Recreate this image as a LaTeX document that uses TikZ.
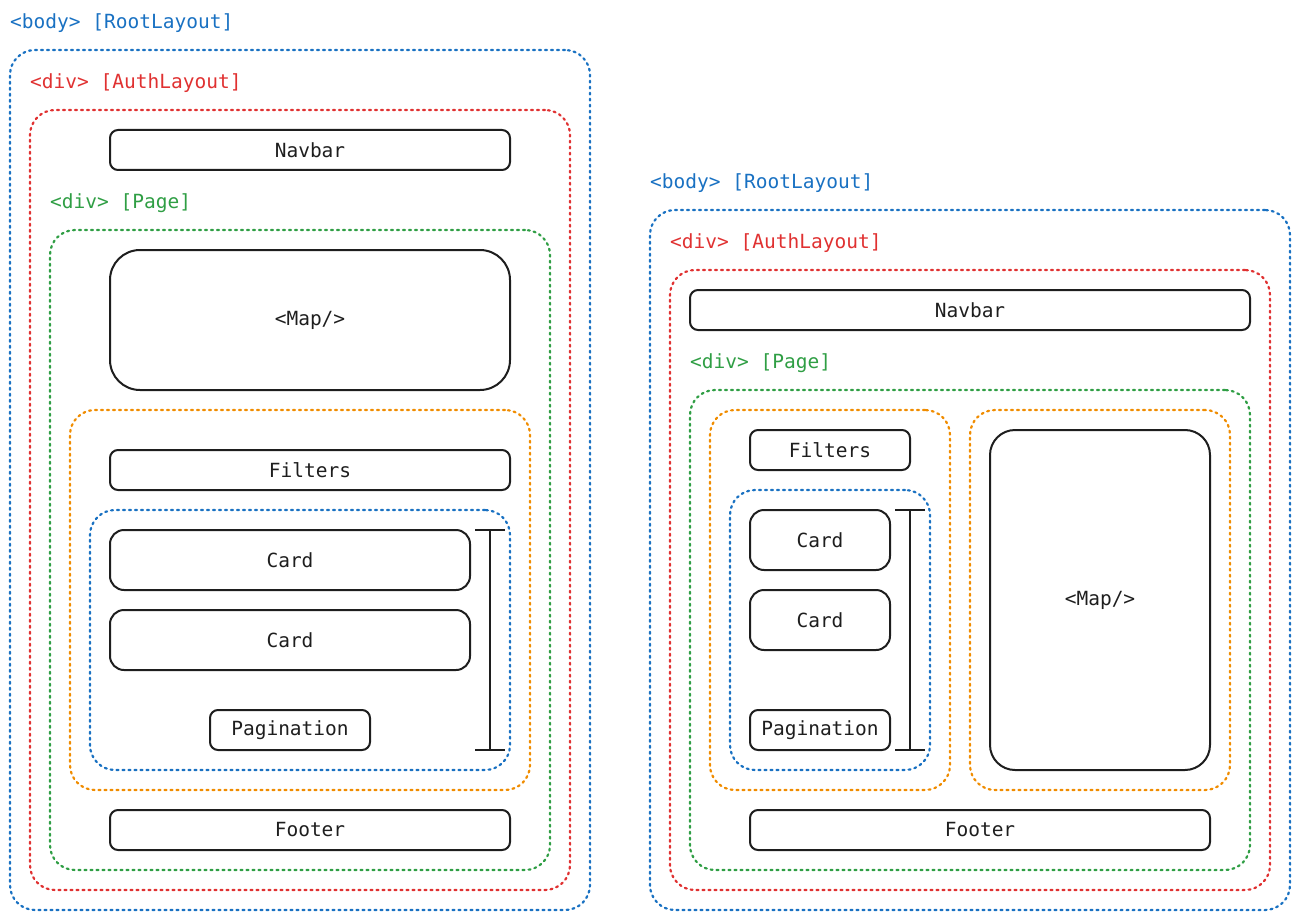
\documentclass[tikz,border=0pt]{standalone}
\usepackage{fontspec}
\newfontfamily\codefont{DejaVu Sans Mono}
\definecolor{cblue}{HTML}{1971C2}
\definecolor{cred}{HTML}{E03131}
\definecolor{cgreen}{HTML}{2F9E44}
\definecolor{corange}{HTML}{F08C00}
\definecolor{cdark}{HTML}{1E1E1E}
\tikzset{
  lbl/.style={anchor=west, inner sep=0pt, font=\codefont\fontsize{19.5}{22}\selectfont},
  cont/.style={draw=#1, line width=2.2pt, dash pattern=on 2pt off 4pt, line cap=round, rounded corners=25pt, inner sep=0pt},
  ubox/.style={draw=cdark, line width=2pt, rounded corners=#1, inner sep=0pt, text=cdark, font=\codefont\fontsize{19.5}{22}\selectfont},
  ubox/.default=8pt,
  sbar/.style={draw=cdark, line width=2pt}
}
\begin{document}
\begin{tikzpicture}[x=1pt,y=-1pt]
\useasboundingbox (0,0) rectangle (1300,920);
% ===== Left layout =====
\node[lbl, text=cblue] (bodyLL) at (10,23) {<body> [RootLayout]};
\node[cont=cblue, minimum width=580, minimum height=860] (bodyL) at (300,480) {};
\node[lbl, text=cred] (authLL) at (30,83) {<div> [AuthLayout]};
\node[cont=cred, minimum width=540, minimum height=780] (authL) at (300,500) {};
\node[ubox, minimum width=400, minimum height=40] (navL) at (310,150) {Navbar};
\node[lbl, text=cgreen] (pageLL) at (50,203) {<div> [Page]};
\node[cont=cgreen, minimum width=500, minimum height=640] (pageL) at (300,550) {};
\node[ubox=30pt, minimum width=400, minimum height=140] (mapL) at (310,320) {<Map/>};
\node[cont=corange, minimum width=460, minimum height=380] (listL) at (300,600) {};
\node[ubox, minimum width=400, minimum height=40] (filL) at (310,470) {Filters};
\node[cont=cblue, minimum width=420, minimum height=260] (scrL) at (300,640) {};
\node[ubox=14pt, minimum width=360, minimum height=60] (card1L) at (290,560) {Card};
\node[ubox=14pt, minimum width=360, minimum height=60] (card2L) at (290,640) {Card};
\node[ubox, minimum width=160, minimum height=40] (pagL) at (290,730) {Pagination};
\coordinate (sbLt) at (490,530);
\coordinate (sbLb) at (490,750);
\draw[sbar] (sbLt) -- (sbLb);
\draw[sbar] ([xshift=-15]sbLt) -- ([xshift=15]sbLt);
\draw[sbar] ([xshift=-15]sbLb) -- ([xshift=15]sbLb);
\node[ubox, minimum width=400, minimum height=40] (footL) at (310,830) {Footer};
% ===== Right layout =====
\node[lbl, text=cblue] (bodyRL) at (650,183) {<body> [RootLayout]};
\node[cont=cblue, minimum width=640, minimum height=700] (bodyR) at (970,560) {};
\node[lbl, text=cred] (authRL) at (670,243) {<div> [AuthLayout]};
\node[cont=cred, minimum width=600, minimum height=620] (authR) at (970,580) {};
\node[ubox, minimum width=560, minimum height=40] (navR) at (970,310) {Navbar};
\node[lbl, text=cgreen] (pageRL) at (690,363) {<div> [Page]};
\node[cont=cgreen, minimum width=560, minimum height=480] (pageR) at (970,630) {};
\node[cont=corange, minimum width=240, minimum height=380] (listR) at (830,600) {};
\node[ubox, minimum width=160, minimum height=40] (filR) at (830,450) {Filters};
\node[cont=cblue, minimum width=200, minimum height=280] (scrR) at (830,630) {};
\node[ubox=14pt, minimum width=140, minimum height=60] (card1R) at (820,540) {Card};
\node[ubox=14pt, minimum width=140, minimum height=60] (card2R) at (820,620) {Card};
\node[ubox, minimum width=140, minimum height=40] (pagR) at (820,730) {Pagination};
\coordinate (sbRt) at (910,510);
\coordinate (sbRb) at (910,750);
\draw[sbar] (sbRt) -- (sbRb);
\draw[sbar] ([xshift=-15]sbRt) -- ([xshift=15]sbRt);
\draw[sbar] ([xshift=-15]sbRb) -- ([xshift=15]sbRb);
\node[cont=corange, minimum width=260, minimum height=380] (mapCR) at (1100,600) {};
\node[ubox=25pt, minimum width=220, minimum height=340] (mapR) at (1100,600) {<Map/>};
\node[ubox, minimum width=460, minimum height=40] (footR) at (980,830) {Footer};
\end{tikzpicture}
\end{document}
